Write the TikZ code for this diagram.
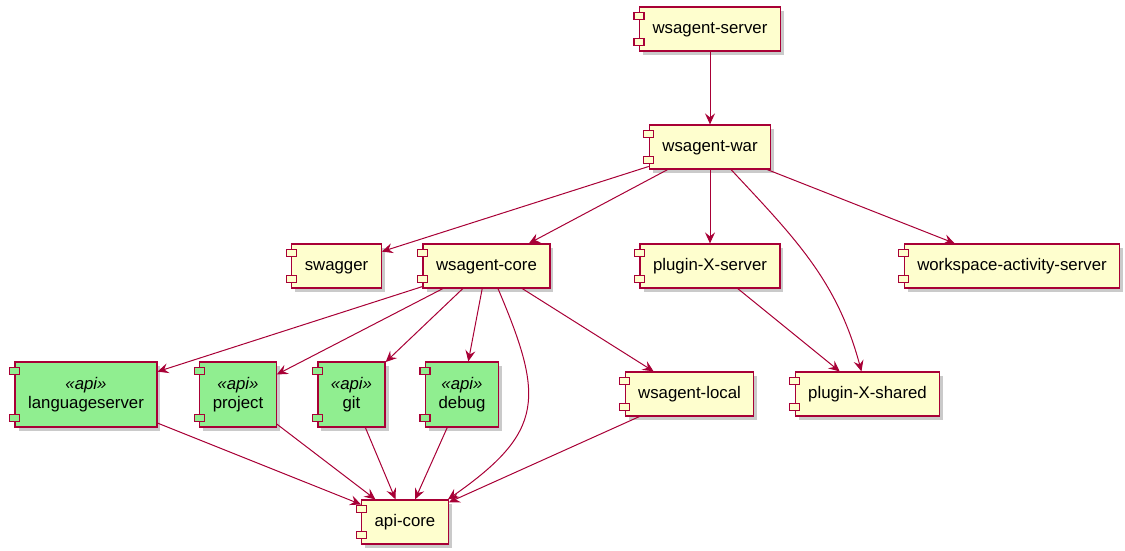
\documentclass[tikz,border=0pt]{standalone}
\usepackage{fontspec}
\setmainfont{Liberation Sans}
\usetikzlibrary{arrows.meta,shadows}
\definecolor{umlborder}{HTML}{A80036}
\definecolor{umlyellow}{HTML}{FEFECE}
\definecolor{umlgreen}{HTML}{90EE90}
\begin{document}
\begin{tikzpicture}[x=1pt,y=1pt,
		comp/.style={draw=umlborder,fill=umlyellow,line width=1.2pt,
			minimum height=44pt,inner xsep=13pt,text height=12pt,text depth=4pt,
			font=\fontsize{16.8}{19}\selectfont,
			drop shadow={shadow xshift=3.5pt,shadow yshift=-3.5pt,fill=black!60,opacity=0.35}},
		apicomp/.style={draw=umlborder,fill=umlgreen,line width=1.2pt,
			minimum height=65pt,inner xsep=13pt,align=center,
			font=\fontsize{16.8}{19}\selectfont,
			drop shadow={shadow xshift=3.5pt,shadow yshift=-3.5pt,fill=black!60,opacity=0.35}},
		tab/.style={draw=umlborder,line width=1.1pt},
		dep/.style={draw=umlborder,line width=1pt,-{Stealth[length=11pt,width=10pt,inset=4pt]}}]
		\useasboundingbox (0,0) rectangle (1125,-550);
		% components
		\node[comp] (server) at (710,-29) {wsagent-server};
		\node[comp] (war) at (710,-147) {wsagent-war};
		\node[comp] (swagger) at (336.5,-266) {swagger};
		\node[comp] (core) at (486.5,-266) {wsagent-core};
		\node[comp] (pxserver) at (710,-266) {plugin-X-server};
		\node[comp] (activity) at (1012,-266) {workspace-activity-server};
		\node[apicomp] (langserver) at (86,-394.5) {\textit{«api»}\\languageserver};
		\node[apicomp] (project) at (238,-394.5) {\textit{«api»}\\project};
		\node[apicomp] (git) at (351.5,-394.5) {\textit{«api»}\\git};
		\node[apicomp] (debug) at (462,-394.5) {\textit{«api»}\\debug};
		\node[comp] (local) at (689.5,-394) {wsagent-local};
		\node[comp] (pxshared) at (867.5,-394) {plugin-X-shared};
		\node[comp] (apicore) at (405,-522) {api-core};
		% the two small tabs on the left side
		\foreach \n/\c in {server/umlyellow,war/umlyellow,swagger/umlyellow,core/umlyellow,
				pxserver/umlyellow,activity/umlyellow,local/umlyellow,pxshared/umlyellow,apicore/umlyellow,
				langserver/umlgreen,project/umlgreen,git/umlgreen,debug/umlgreen} {
			\draw[tab,fill=\c] ([xshift=-5pt,yshift=-6pt]\n.north west) rectangle ++(10pt,-7pt);
			\draw[tab,fill=\c] ([xshift=-5pt,yshift=6pt]\n.south west) rectangle ++(10pt,7pt);
		}
		% dependencies
		\draw[dep] (server) -- (war);
		\draw[dep] (war) -- (swagger);
		\draw[dep] (war) -- (core);
		\draw[dep] (war) -- (pxserver);
		\draw[dep] (war) to[out=-47,in=105] (pxshared);
		\draw[dep] (war) -- (activity);
		\draw[dep] (core) -- (langserver);
		\draw[dep] (core) -- (project);
		\draw[dep] (core) -- (git);
		\draw[dep] (core) -- (debug);
		\draw[dep] ([xshift=11.5pt]core.south) to[out=-67,in=35,looseness=1.4] ([xshift=-1pt]apicore.north east);
		\draw[dep] (core) -- (local);
		\draw[dep] (pxserver) -- (pxshared);
		\draw[dep] (langserver) -- (apicore);
		\draw[dep] (project) -- (apicore);
		\draw[dep] (git) -- (apicore);
		\draw[dep] (debug) -- (apicore);
		\draw[dep] (local) -- (apicore);
	\end{tikzpicture}
\end{document}
